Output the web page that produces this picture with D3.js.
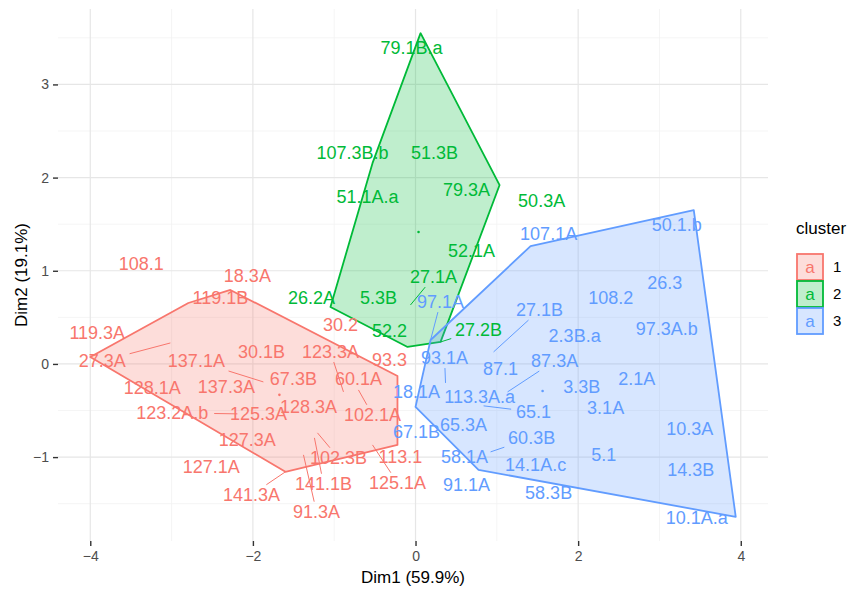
<!DOCTYPE html>
<html><head><meta charset="utf-8">
<script src="https://cdn.jsdelivr.net/npm/d3@7"></script>
<style>body{margin:0;background:#fff}svg{display:block}text{font-family:"Liberation Sans",Arial,sans-serif}</style>
</head><body><svg id="c" width="851" height="590"></svg>
<script>
// observations: name, cluster, point coords, label coords (repelled)
const names1 = ["119.3A","108.1","18.3A","119.1B","27.3A","137.1A","30.1B","128.1A","137.3A","67.3B","123.3A","30.2","93.3","60.1A","102.1A","128.3A","123.2A.b","125.3A","127.3A","102.3B","113.1","127.1A","141.3A","141.1B","125.1A","91.3A"];
const dim1_1 = [-4.000,-2.794,-2.277,-2.400,-3.015,-1.871,-1.895,-3.237,-2.326,-1.502,-0.886,-0.898,-0.222,-0.702,-0.702,-1.317,-2.191,-1.932,-2.068,-1.206,-0.222,-2.215,-1.600,-1.243,-0.529,-1.378];
const dim2_1 = [0.075,0.654,0.794,0.718,0.225,-0.193,0.129,-0.257,-0.247,-0.161,-0.300,0.129,-0.129,-0.161,-0.279,-0.440,-0.536,-0.536,-0.815,-0.740,-0.869,-0.729,-1.158,-0.794,-0.869,-0.976];
const lab1_1 = [-3.914,-3.372,-2.068,-2.400,-3.852,-2.695,-1.895,-3.237,-2.326,-1.502,-1.046,-0.923,-0.320,-0.702,-0.529,-1.317,-2.991,-1.932,-2.068,-0.948,-0.185,-2.511,-2.018,-1.132,-0.222,-1.218];
const lab2_1 = [0.332,1.083,0.944,0.718,0.032,0.032,0.129,-0.257,-0.247,-0.161,0.129,0.418,0.043,-0.161,-0.547,-0.461,-0.525,-0.536,-0.815,-1.008,-0.997,-1.105,-1.405,-1.287,-1.276,-1.587];

const names2 = ["79.1B.a","107.3B.b","51.3B","51.1A.a","79.3A","50.3A","52.1A","26.2A","5.3B","27.1A","52.2","27.2B"];
const dim1_2 = [0.062,-0.529,0.234,-0.591,0.628,1.034,0.689,-1.046,-0.455,-0.062,-0.098,0.308];
const dim2_2 = [3.550,2.155,2.273,1.802,1.877,1.920,1.212,0.611,0.708,0.633,0.182,0.236];
const lab1_2 = [-0.049,-0.775,0.234,-0.591,0.628,1.551,0.689,-1.280,-0.455,0.222,-0.320,0.775];
const lab2_2 = [3.399,2.273,2.273,1.802,1.877,1.759,1.212,0.718,0.708,0.933,0.354,0.365];

const names3 = ["107.1A","50.1.b","26.3","108.2","27.1B","97.1A","2.3B.a","97.3A.b","93.1A","87.1","87.3A","2.1A","3.3B","113.3A.a","18.1A","65.1","3.1A","10.3A","67.1B","65.3A","60.3B","58.1A","14.1A.c","5.1","14.3B","91.1A","58.3B","10.1A.a"];
const dim1_3 = [1.415,3.422,3.065,2.400,0.960,0.185,1.957,3.089,0.369,1.046,1.132,2.720,2.043,0.788,0.000,0.837,2.338,3.372,0.283,0.591,0.923,0.628,1.477,2.314,3.385,0.775,1.600,3.938];
const dim2_3 = [1.265,1.651,0.869,0.708,0.129,0.257,0.300,0.375,-0.204,-0.054,-0.300,-0.161,-0.247,-0.354,-0.461,-0.450,-0.472,-0.697,-0.643,-0.654,-0.944,-0.944,-1.083,-0.976,-1.137,-1.137,-1.255,-1.641];
const lab1_3 = [1.637,3.212,3.065,2.400,1.526,0.308,1.957,3.089,0.357,1.046,1.711,2.720,2.043,0.788,0.012,1.452,2.338,3.372,0.012,0.591,1.428,0.603,1.477,2.314,3.385,0.628,1.637,3.458];
const lab2_3 = [1.405,1.501,0.869,0.708,0.579,0.665,0.300,0.375,0.064,-0.054,0.032,-0.161,-0.247,-0.354,-0.300,-0.515,-0.472,-0.697,-0.729,-0.654,-0.794,-0.997,-1.083,-0.976,-1.137,-1.298,-1.383,-1.651];

const segmentNames = ["27.3A","137.1A","123.3A","102.1A","123.2A.b","102.3B","141.3A","141.1B","125.1A","91.3A","27.1A","27.2B","27.1B","97.1A","93.1A","87.3A","65.1","60.3B"];
const centers1 = [-1.674,0.037,1.563];
const centers2 = [-0.332,1.416,-0.290];
const clusterIds = ["1","2","3"];
const clusterColors = ["#F8766D","#00BA38","#619CFF"];
const xTicks = [-4,-2,0,2,4];
const yTicks = [-1,0,1,2,3];
const xTitle = "Dim1 (59.9%)", yTitle = "Dim2 (19.1%)", legendTitle = "cluster";

const groups = [
  {names:names1,x:dim1_1,y:dim2_1,lx:lab1_1,ly:lab2_1},
  {names:names2,x:dim1_2,y:dim2_2,lx:lab1_2,ly:lab2_2},
  {names:names3,x:dim1_3,y:dim2_3,lx:lab1_3,ly:lab2_3}
];
const obs = [];
groups.forEach((g,ci)=>g.names.forEach((n,i)=>obs.push({name:n,c:ci,x:g.x[i],y:g.y[i],lx:g.lx[i],ly:g.ly[i]})));

const svg = d3.select("#c");
const L=58,R=768,T=9,B=541;
const xe = d3.extent(obs,d=>d.x), ye = d3.extent(obs,d=>d.y);
const xp=(xe[1]-xe[0])*0.05, yp=(ye[1]-ye[0])*0.05;
const x = d3.scaleLinear().domain([xe[0]-xp,xe[1]+xp]).range([L,R]);
const y = d3.scaleLinear().domain([ye[0]-yp,ye[1]+yp]).range([B,T]);

// grid
const g = svg.append("g");
const xMinor = d3.range(-5,5).filter(v=>Math.abs(v%2)===1 && v>x.domain()[0] && v<x.domain()[1]);
const yMinor = d3.range(-2.5,4,1).filter(v=>v>y.domain()[0]&&v<y.domain()[1]);
g.selectAll(".xm").data(xMinor).join("line").attr("x1",d=>x(d)).attr("x2",d=>x(d)).attr("y1",T).attr("y2",B).attr("stroke","#F2F2F2").attr("stroke-width",0.8);
g.selectAll(".ym").data(yMinor).join("line").attr("y1",d=>y(d)).attr("y2",d=>y(d)).attr("x1",L).attr("x2",R).attr("stroke","#F2F2F2").attr("stroke-width",0.8);
g.selectAll(".xM").data(xTicks).join("line").attr("x1",d=>x(d)).attr("x2",d=>x(d)).attr("y1",T).attr("y2",B).attr("stroke","#E6E6E6").attr("stroke-width",1.2);
g.selectAll(".yM").data(yTicks).join("line").attr("y1",d=>y(d)).attr("y2",d=>y(d)).attr("x1",L).attr("x2",R).attr("stroke","#E6E6E6").attr("stroke-width",1.2);

// axes
const xa = svg.append("g").attr("transform",`translate(0,${B})`).call(d3.axisBottom(x).tickValues(xTicks).tickSize(5).tickPadding(5).tickFormat(d=>d<0?"\u2212"+Math.abs(d):d));
const ya = svg.append("g").attr("transform",`translate(${L},0)`).call(d3.axisLeft(y).tickValues(yTicks).tickSize(5).tickPadding(4).tickFormat(d=>d<0?"\u2212"+Math.abs(d):d));
[xa,ya].forEach(a=>{a.select(".domain").remove();a.selectAll(".tick line").attr("stroke","#333").attr("stroke-width",1.4);a.selectAll("text").attr("fill","#4D4D4D").style("font-size","14px").style("font-family","'Liberation Sans',Arial,sans-serif");});

svg.append("text").attr("x",(L+R)/2).attr("y",583).attr("text-anchor","middle").style("font-size","17px").attr("fill","#000").text(xTitle);
svg.append("text").attr("transform",`translate(27,${(T+B)/2}) rotate(-90)`).attr("text-anchor","middle").style("font-size","17px").attr("fill","#000").text(yTitle);

// hulls
clusterIds.forEach((id,ci)=>{
  const pts = obs.filter(d=>d.c===ci).map(d=>[x(d.x),y(d.y)]);
  const hull = d3.polygonHull(pts);
  svg.append("path").attr("d","M"+hull.join("L")+"Z").attr("fill",clusterColors[ci]).attr("fill-opacity",0.25).attr("stroke",clusterColors[ci]).attr("stroke-width",1.8).attr("stroke-linejoin","round");
});

// centers
svg.selectAll(".ctr").data(centers1).join("circle").attr("cx",d=>x(d)).attr("cy",(d,i)=>y(centers2[i])).attr("r",1.3).attr("fill",(d,i)=>clusterColors[i]);

// segments
const fs = 18;
svg.selectAll(".seg").data(obs.filter(d=>segmentNames.includes(d.name))).join("line")
  .each(function(d){
    const px=x(d.x),py=y(d.y),lx=x(d.lx),ly=y(d.ly);
    const w=d.name.length*fs*0.27+3,h=fs*0.45+2;
    const dx=px-lx,dy=py-ly;
    const t=Math.min(Math.abs(dx)>0?w/Math.abs(dx):1e9,Math.abs(dy)>0?h/Math.abs(dy):1e9);
    const sx=lx+dx*Math.min(t,1),sy=ly+dy*Math.min(t,1);
    d3.select(this).attr("x1",sx).attr("y1",sy).attr("x2",px).attr("y2",py);
  })
  .attr("stroke",d=>clusterColors[d.c]).attr("stroke-width",1);

// labels
svg.selectAll(".lab").data(obs).join("text").attr("x",d=>x(d.lx)).attr("y",d=>y(d.ly)).attr("dy","0.36em")
  .attr("text-anchor","middle").style("font-size",fs+"px").attr("fill",d=>clusterColors[d.c]).text(d=>d.name);

// legend
const lg = svg.append("g");
lg.append("text").attr("x",796).attr("y",234).style("font-size","17px").attr("fill","#000").text(legendTitle);
clusterIds.forEach((id,i)=>{
  const ky=254+i*27;
  lg.append("rect").attr("x",797).attr("y",ky).attr("width",26).attr("height",26).attr("fill",clusterColors[i]).attr("fill-opacity",0.25).attr("stroke",clusterColors[i]).attr("stroke-width",1.8);
  lg.append("text").attr("x",810).attr("y",ky+13).attr("dy","0.36em").attr("text-anchor","middle").style("font-size","17px").attr("fill",clusterColors[i]).text("a");
  lg.append("text").attr("x",833).attr("y",ky+13).attr("dy","0.36em").style("font-size","15px").attr("fill","#000").text(id);
});
</script></body></html>
